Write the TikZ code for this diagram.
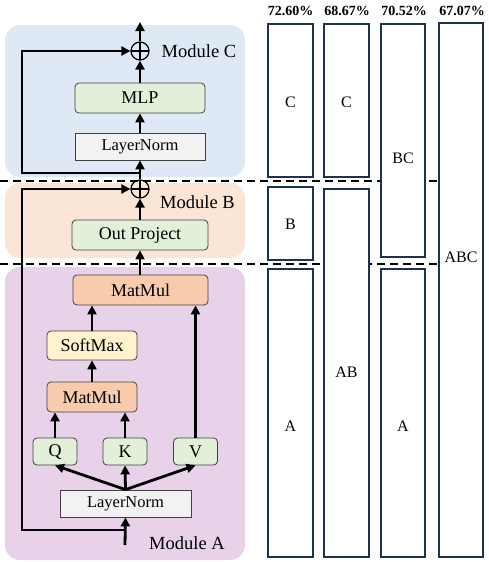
\documentclass[tikz,border=0pt]{standalone}
\usepackage{fontspec}
\setmainfont{Liberation Serif}
\usetikzlibrary{arrows.meta, positioning}
\definecolor{modCfill}{RGB}{222,233,245}
\definecolor{modBfill}{RGB}{251,229,214}
\definecolor{modAfill}{RGB}{232,210,234}
\definecolor{projfill}{RGB}{226,240,217}
\definecolor{mulfill}{RGB}{248,203,173}
\definecolor{softfill}{RGB}{255,242,204}
\definecolor{normfill}{RGB}{242,242,242}
\definecolor{barline}{RGB}{31,48,80}
\tikzset{
    module/.style={
        fill=#1,
        draw=none,
        rounded corners=15pt
    },
    box/.style={
        draw=black!75,
        line width=0.8pt,
        rounded corners=4pt,
        inner sep=0pt,
        text centered,
        font=\fontsize{18}{20}\selectfont
    },
    greenbox/.style={
        box,
        fill=projfill
    },
    mulbox/.style={
        box,
        fill=mulfill
    },
    softbox/.style={
        box,
        fill=softfill
    },
    normbox/.style={
        box,
        fill=normfill,
        rounded corners=0pt,
        font=\fontsize{16.5}{18}\selectfont
    },
    adder/.style={
        circle,
        draw=black,
        line width=1.2pt,
        minimum size=18pt,
        inner sep=0pt,
        path picture={
            \draw[line width=1.2pt] (path picture bounding box.north) -- (path picture bounding box.south)
                (path picture bounding box.west) -- (path picture bounding box.east);
        }
    },
    flow/.style={
        draw=black,
        line width=2.8pt,
        -{Triangle[length=9pt,width=9pt]}
    },
    split/.style={
        draw=black,
        line width=1.3pt,
        dash pattern=on 8pt off 5pt
    },
    bar/.style={
        draw=barline,
        line width=2pt,
        fill=white,
        inner sep=0pt
    },
    barlabel/.style={
        font=\fontsize{16}{18}\selectfont
    },
    score/.style={
        font=\fontsize{14}{16}\selectfont\bfseries
    },
    modlabel/.style={
        font=\fontsize{18.5}{20}\selectfont
    }
}

\begin{document}
\begin{tikzpicture}[x=1pt, y=-1pt]
\useasboundingbox (0,0) rectangle (489,562);

% Module backgrounds
\fill[module=modCfill] (5,25) rectangle (245,177);
\fill[module=modBfill] (5,183) rectangle (245,258);
\fill[module=modAfill] (5,267) rectangle (245,560);

% Split lines
\draw[split] (0,181) -- (440,181);
\draw[split] (0,264) -- (440,264);

% Module A: attention
\node[normbox, minimum width=131pt, minimum height=27pt] (normA) at (125.5,503.5) {LayerNorm};
\node[greenbox, minimum width=44pt, minimum height=27pt] (q) at (55,451.5) {Q};
\node[greenbox, minimum width=44pt, minimum height=27pt] (k) at (125,451.5) {K};
\node[greenbox, minimum width=44pt, minimum height=27pt] (v) at (195.5,451.5) {V};
\node[mulbox, minimum width=90pt, minimum height=30pt] (mulS) at (92,397) {MatMul};
\node[softbox, minimum width=90pt, minimum height=29pt] (soft) at (92,345.5) {SoftMax};
\node[mulbox, minimum width=135pt, minimum height=30pt] (mulL) at (140.5,290) {MatMul};

% Module B: projection
\node[greenbox, minimum width=136pt, minimum height=30pt] (proj) at (140,235) {Out Project};
\node[adder] (plusB) at (140,189) {};

% Module C: MLP
\node[normbox, minimum width=130pt, minimum height=27pt] (normC) at (140,146.5) {LayerNorm};
\node[greenbox, minimum width=130pt, minimum height=30pt] (mlp) at (140,98) {MLP};
\node[adder] (plusC) at (140,51) {};

% Free ends and taps
\coordinate (in) at (125,545);
\coordinate (tapB) at (125,530);
\coordinate (tapC) at (140,173);
\coordinate (out) at (140,22);

% Connections
\draw[flow] (in) -- (normA.south);
\draw[flow] (normA.north) -- (q.south);
\draw[flow] (normA.north) -- (k.south);
\draw[flow] (normA.north) -- (v.south);
\draw[flow] (q.north) -- (q.north |- mulS.south);
\draw[flow] (k.north) -- (k.north |- mulS.south);
\draw[flow] (v.north) -- (v.north |- mulL.south);
\draw[flow] (mulS.north) -- (soft.south);
\draw[flow] (soft.north) -- (soft.north |- mulL.south);
\draw[flow] (mulL.north -| proj.south) -- (proj.south);
\draw[flow] (proj.north) -- (plusB.south);
\draw[flow] (tapB) -- ++(-103,0) |- (plusB.west);
\draw[flow] (plusB.north) -- (normC.south);
\draw[flow] (normC.north) -- (mlp.south);
\draw[flow] (mlp.north) -- (plusC.south);
\draw[flow] (tapC) -- ++(-118,0) |- (plusC.west);
\draw[flow] (plusC.north) -- (out);

% Module labels
\node[modlabel] (labC) at (199,51) {Module C};
\node[modlabel] (labB) at (197.5,202) {Module B};
\node[modlabel] (labA) at (187,543) {Module A};

% Bars: C | B | A
\node[bar, minimum width=45pt, minimum height=153pt] (c1) at (290.5,100.5) {};
\node[bar, minimum width=45pt, minimum height=73pt] (b1) at (290.5,223.5) {};
\node[bar, minimum width=45pt, minimum height=288pt] (a1) at (290.5,413) {};
% Bars: C | AB
\node[bar, minimum width=45pt, minimum height=153pt] (c2) at (346.5,100.5) {};
\node[bar, minimum width=45pt, minimum height=368pt] (ab2) at (346.5,373) {};
% Bars: BC | A
\node[bar, minimum width=44pt, minimum height=233pt] (bc3) at (403,140.5) {};
\node[bar, minimum width=44pt, minimum height=288pt] (a3) at (403,413) {};
% Bars: ABC
\node[bar, minimum width=44pt, minimum height=534pt] (abc4) at (461,290) {};

% Bar labels
\node[barlabel] (tc1) at (290.5,102) {C};
\node[barlabel] (tb1) at (290.5,224) {B};
\node[barlabel] (ta1) at (290.5,426) {A};
\node[barlabel] (tc2) at (346.5,102) {C};
\node[barlabel] (tab2) at (346.5,372) {AB};
\node[barlabel] (tbc3) at (403,158) {BC};
\node[barlabel] (ta3) at (403,426) {A};
\node[barlabel] (tabc4) at (461,257) {ABC};

% Scores
\node[score] (s1) at (290.5,11) {72.60\%};
\node[score] (s2) at (347,11) {68.67\%};
\node[score] (s3) at (404,11) {70.52\%};
\node[score] (s4) at (462,11) {67.07\%};

\end{tikzpicture}
\end{document}
